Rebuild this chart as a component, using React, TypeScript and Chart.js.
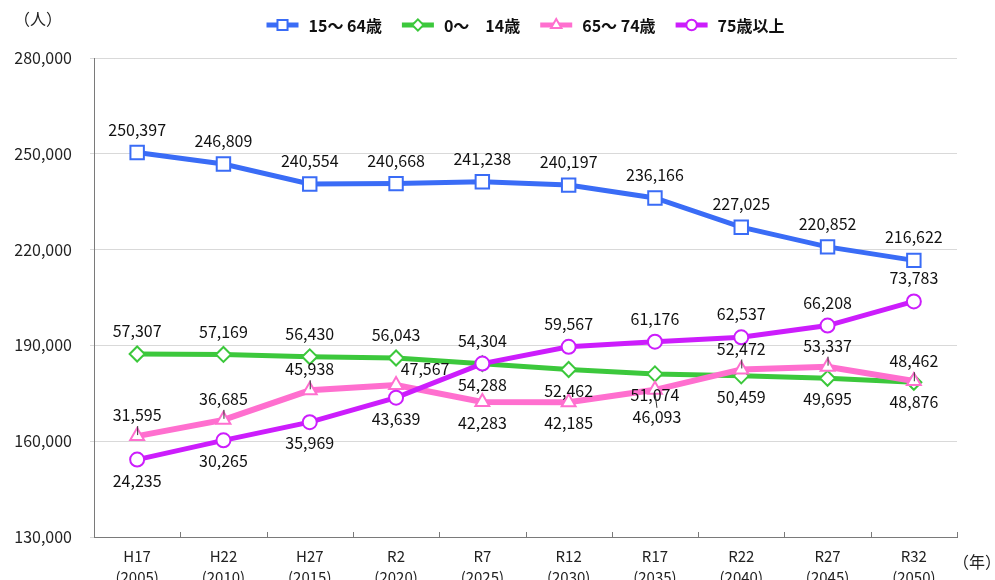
import React, { useEffect, useRef } from "react";
import { Chart, registerables } from "chart.js";
import { drawPoint } from "chart.js/helpers";

Chart.register(...registerables);

// ---- data ----
const eraLabels = ["H17", "H22", "H27", "R2", "R7", "R12", "R17", "R22", "R27", "R32"];
const yearLabels = ["(2005)", "(2010)", "(2015)", "(2020)", "(2025)", "(2030)", "(2035)", "(2040)", "(2045)", "(2050)"];
const yTickValues = [130000, 160000, 190000, 220000, 250000, 280000];

const seriesNames = ["15～ 64歳", "0～　14歳", "65～ 74歳", "75歳以上"];
const pop15to64 = [250397, 246809, 240554, 240668, 241238, 240197, 236166, 227025, 220852, 216622];
const pop0to14 = [57307, 57169, 56430, 56043, 54288, 52462, 51074, 50459, 49695, 48462];
const pop65to74 = [31595, 36685, 45938, 47567, 42283, 42185, 46093, 52472, 53337, 48876];
const pop75plus = [24235, 30265, 35969, 43639, 54304, 59567, 61176, 62537, 66208, 73783];

// label placement codes: a = above, b = below, al = above with leader, bl = below with leader, ar = above right
const place15to64 = ["a", "a", "a", "a", "a", "a", "a", "a", "a", "a"];
const place0to14 = ["a", "a", "a", "a", "b", "b", "b", "b", "b", "al"];
const place65to74 = ["al", "al", "al", "ar", "b", "b", "bl", "al", "al", "b"];
const place75plus = ["b", "b", "b", "b", "a", "a", "a", "a", "a", "a"];

const OFFSETS: Record<string, [number, number]> = {
  a: [0, -23],
  al: [0, -21],
  b: [0, 21],
  bl: [2, 27],
  ar: [29, -16],
};

const JP_FONT = '"Noto Sans CJK JP", "Noto Sans", sans-serif';
const NUM_FONT = `16px ${JP_FONT}`;

const fmt = (v: number) => v.toLocaleString("en-US");

const valueLabels = {
  id: "valueLabels",
  afterDatasetsDraw(chart: any) {
    const { ctx } = chart;
    ctx.save();
    ctx.font = NUM_FONT;
    ctx.fillStyle = "#111";
    ctx.textAlign = "center";
    ctx.textBaseline = "middle";
    chart.data.datasets.forEach((ds: any, i: number) => {
      const meta = chart.getDatasetMeta(i);
      meta.data.forEach((pt: any, j: number) => {
        const p = ds.labelPlacement[j];
        const [dx, dy] = OFFSETS[p];
        if (p === "al") {
          ctx.strokeStyle = "#333";
          ctx.lineWidth = 1;
          ctx.beginPath();
          ctx.moveTo(pt.x + 0.5, pt.y - 1);
          ctx.lineTo(pt.x + 0.5, pt.y - 10);
          ctx.stroke();
        } else if (p === "bl") {
          ctx.strokeStyle = "#333";
          ctx.lineWidth = 1;
          ctx.beginPath();
          ctx.moveTo(pt.x, pt.y + 3);
          ctx.lineTo(pt.x + 2, pt.y + 18);
          ctx.stroke();
        }
        ctx.fillText(fmt(ds.data[j]), pt.x + dx, pt.y + dy);
      });
    });
    ctx.restore();
  },
};

const decorations = {
  id: "decorations",
  afterDraw(chart: any) {
    const { ctx, chartArea } = chart;
    const xs = chart.scales.x;
    ctx.save();
    // inner tick marks on the category axis
    const n = xs.ticks.length;
    const step = (xs.right - xs.left) / n;
    ctx.strokeStyle = "#7a7a7a";
    ctx.lineWidth = 1;
    for (let i = 0; i < n; i++) {
      const x = Math.round(xs.getPixelForValue(i) + step / 2) + 0.5;
      ctx.beginPath();
      ctx.moveTo(x, chartArea.bottom - 5);
      ctx.lineTo(x, chartArea.bottom);
      ctx.stroke();
    }
    // axis unit titles
    ctx.fillStyle = "#222";
    ctx.font = `16px ${JP_FONT}`;
    ctx.textBaseline = "middle";
    ctx.textAlign = "left";
    ctx.fillText("（人）", 14, 19);
    ctx.fillText("（年）", 953, 562);

    // legend
    ctx.font = `bold 16px ${JP_FONT}`;
    const lineW = 32;
    const gapText = 10;
    const gapItem = 20;
    const items = chart.data.datasets.map((ds: any) => ({ ds, w: ctx.measureText(ds.label).width }));
    const total =
      items.reduce((s: number, it: any) => s + lineW + gapText + it.w, 0) + gapItem * (items.length - 1);
    let x = (chartArea.left + chartArea.right) / 2 - total / 2;
    const y = 25;
    for (const it of items) {
      const ds = it.ds;
      ctx.strokeStyle = ds.borderColor;
      ctx.lineWidth = 5;
      ctx.beginPath();
      ctx.moveTo(x, y);
      ctx.lineTo(x + lineW, y);
      ctx.stroke();
      ctx.fillStyle = "#ffffff";
      ctx.strokeStyle = ds.borderColor;
      ctx.lineWidth = 2;
      drawPoint(
        ctx,
        { pointStyle: ds.pointStyle, radius: ds.pointRadius * 0.75, rotation: 0, borderWidth: 2 } as any,
        x + lineW / 2,
        y
      );
      ctx.fillStyle = "#111";
      ctx.textAlign = "left";
      ctx.fillText(ds.label, x + lineW + gapText, y + 1);
      x += lineW + gapText + it.w + gapItem;
    }
    ctx.restore();
  },
};

export default function App() {
  const ref = useRef<HTMLCanvasElement | null>(null);

  useEffect(() => {
    if (!ref.current) return;
    const mk = (
      label: string,
      data: number[],
      color: string,
      pointStyle: string,
      pointRadius: number,
      yAxisID: string,
      order: number,
      labelPlacement: string[],
      borderWidth = 5
    ) => ({
      label,
      data,
      borderColor: color,
      backgroundColor: color,
      borderWidth,
      pointStyle,
      pointRadius,
      pointBorderWidth: 2,
      pointBackgroundColor: "#ffffff",
      pointBorderColor: color,
      yAxisID,
      order,
      labelPlacement,
      tension: 0,
    });

    const chart = new Chart(ref.current, {
      type: "line",
      data: {
        labels: eraLabels.map((e, i) => [e, yearLabels[i]]),
        datasets: [
          mk(seriesNames[0], pop15to64, "#3a6cf6", "rect", 9.5, "y", 3, place15to64),
          mk(seriesNames[1], pop0to14, "#3cc83c", "rectRot", 7.5, "y2", 2, place0to14),
          mk(seriesNames[2], pop65to74, "#ff6fcf", "triangle", 8, "y2", 1, place65to74, 6),
          mk(seriesNames[3], pop75plus, "#cc1dfc", "circle", 7, "y2", 0, place75plus),
        ] as any,
      },
      options: {
        animation: false,
        responsive: false,
        events: [],
        layout: { padding: { top: 58, right: 38, left: 0, bottom: 0 } },
        plugins: {
          legend: { display: false },
          tooltip: { enabled: false },
          title: { display: false },
        },
        scales: {
          x: {
            type: "category",
            offset: true,
            grid: { display: false },
            border: { display: true, color: "#7a7a7a", width: 1 },
            ticks: {
              color: "#222",
              font: { family: JP_FONT, size: 15, lineHeight: 1.4 },
              padding: 1,
              maxRotation: 0,
              autoSkip: false,
            },
            afterFit: (s: any) => {
              s.height = 43;
            },
          },
          y: {
            type: "linear",
            position: "left",
            min: 130000,
            max: 280000,
            grid: { color: "#d9d9d9", lineWidth: 1, tickLength: 4, drawTicks: true },
            border: { display: true, color: "#7a7a7a", width: 1 },
            afterBuildTicks: (s: any) => {
              s.ticks = yTickValues.map((v) => ({ value: v }));
            },
            ticks: {
              color: "#222",
              font: { family: JP_FONT, size: 16 },
              padding: 18,
              callback: (v: any) => fmt(Number(v)),
            },
            afterFit: (s: any) => {
              s.width = 94;
            },
          },
          y2: {
            type: "linear",
            display: false,
            min: 0,
            max: 150000,
          },
        },
      },
      plugins: [valueLabels, decorations],
    });
    return () => chart.destroy();
  }, []);

  return (
    <div style={{ position: "absolute", left: 0, top: 0, width: 995, height: 580, background: "#fff" }}>
      <canvas ref={ref} width={995} height={580} style={{ display: "block" }} />
    </div>
  );
}
